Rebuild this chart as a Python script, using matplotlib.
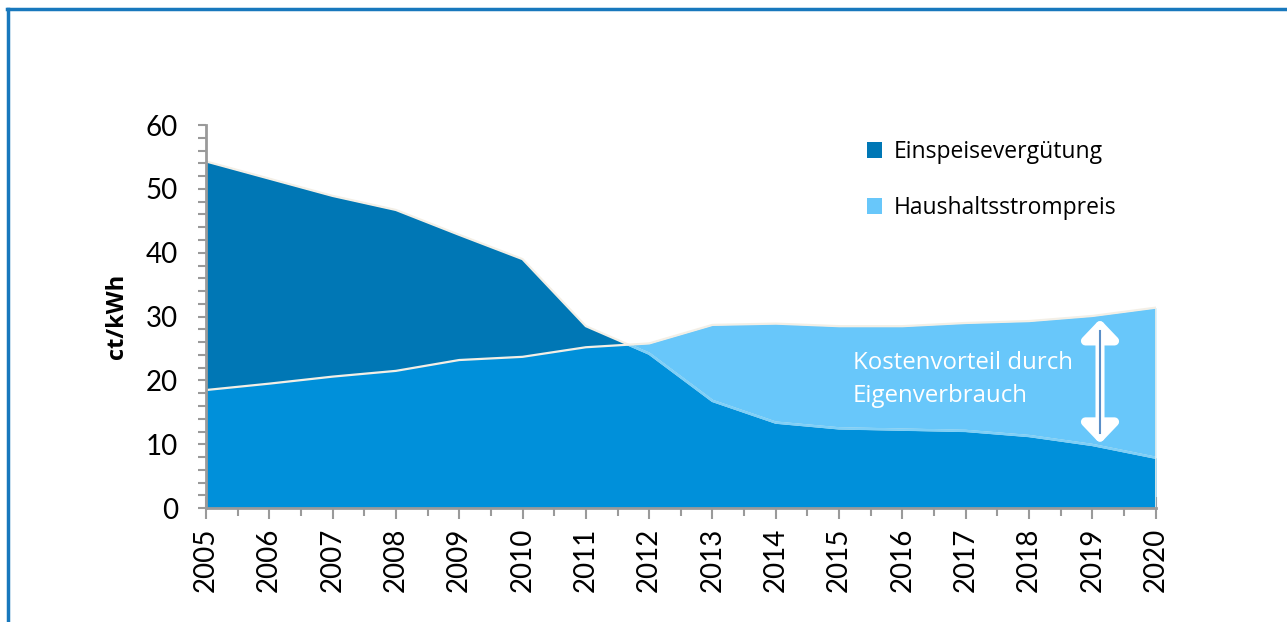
import numpy as np
import matplotlib
matplotlib.use("Agg")
import matplotlib.pyplot as plt
from matplotlib.patches import Patch
from matplotlib.lines import Line2D
from matplotlib.ticker import MultipleLocator

# data (ct/kWh)
years = [2005, 2006, 2007, 2008, 2009, 2010, 2011, 2012,
         2013, 2014, 2015, 2016, 2017, 2018, 2019, 2020]
einspeise = [54.3, 51.6, 48.9, 46.7, 42.8, 39.0, 28.5, 24.2,
             16.8, 13.4, 12.5, 12.3, 12.1, 11.3, 9.9, 7.9]
haushalt = [18.5, 19.5, 20.6, 21.5, 23.2, 23.7, 25.2, 25.8,
            28.7, 28.9, 28.5, 28.5, 29.0, 29.3, 30.1, 31.4]
labels = ["Einspeisevergütung", "Haushaltsstrompreis"]
note = "Kostenvorteil durch\nEigenverbrauch"

dark = "#0077b5"
mid = "#0090da"
light = "#68c7fa"
edge = "#f3efe6"
axis_grey = "#9a9a9a"

x = np.array(years)
e = np.array(einspeise)
h = np.array(haushalt)

fig = plt.figure(figsize=(12.87, 6.22), dpi=100)
ax = fig.add_axes([0.160, 0.183, 0.738, 0.616])

ax.fill_between(x, 0, e, color=dark, lw=0, zorder=1)
hp = ax.fill_between(x, 0, h, color=light, lw=0, zorder=2)
clip = hp.get_paths()[0]
mp = ax.fill_between(x, 0, e, color=mid, lw=0, zorder=3)
mp.set_clip_path(clip, ax.transData)

# outline of the areas
ax.plot(x, e, color=edge, lw=1.6, zorder=4)
faint, = ax.plot(x, e, color="#7fcff7", lw=1.8, zorder=5)
faint.set_clip_path(clip, ax.transData)
ax.plot(x, h, color=edge, lw=1.6, zorder=6)
ax.plot([x[-1], x[-1]], [0, h[-1]], color=edge, lw=1.2, zorder=6)

# double arrow
ax.annotate("", xy=(2019.12, 29.6), xytext=(2019.12, 10.1),
            arrowprops=dict(arrowstyle="<|-|>,head_length=1.1,head_width=1.05",
                            color="white", lw=6.5, shrinkA=0, shrinkB=0), zorder=7)
ax.plot([2019.12, 2019.12], [11.8, 27.8], color="#5a8fc8", lw=1.5, zorder=8)

ax.text(2015.22, 20.2, note, color="white", fontsize=17.3, family="Open Sans",
        va="center", ha="left", linespacing=1.5, zorder=8)

ax.set_xlim(2005, 2020)
ax.set_ylim(0, 60)
ax.set_xticks(years)
ax.set_xticklabels([str(y) for y in years], rotation=90, family="Lato", fontsize=20)
ax.xaxis.set_minor_locator(MultipleLocator(0.5))
ax.set_yticks(range(0, 61, 10))
ax.set_yticklabels([str(v) for v in range(0, 61, 10)], family="Lato", fontsize=20)
ax.yaxis.set_minor_locator(MultipleLocator(2))

ax.tick_params(axis="x", which="major", direction="inout", length=16, width=1.5,
               color=axis_grey, pad=6)
ax.tick_params(axis="x", which="minor", direction="inout", length=11, width=1.5,
               color=axis_grey)
ax.tick_params(axis="y", which="both", direction="out", length=6, width=1.5,
               color=axis_grey, pad=14)

for s in ["top", "right"]:
    ax.spines[s].set_visible(False)
for s in ["left", "bottom"]:
    ax.spines[s].set_color(axis_grey)
    ax.spines[s].set_linewidth(2)
    ax.spines[s].set_zorder(9)

ax.set_ylabel("ct/kWh", fontsize=17, fontweight="bold", family="Open Sans", labelpad=12)

handles = [Patch(facecolor=dark, edgecolor="none"),
           Patch(facecolor=light, edgecolor="none")]
fig.legend(handles, labels, loc="upper left", bbox_to_anchor=(0.658, 0.808),
           frameon=False, prop={"family": "Open Sans", "size": 16.5},
           handlelength=0.65, handleheight=0.65, handletextpad=0.5,
           labelspacing=1.4)

# blue frame (left and top edges)
fig.add_artist(Line2D([0.0065, 0.0065], [0.0, 0.986], color="#1878bd", lw=2.5,
                      transform=fig.transFigure))
fig.add_artist(Line2D([0.0055, 1.0], [0.986, 0.986], color="#1878bd", lw=2.5,
                      transform=fig.transFigure))

fig.savefig("out.png", dpi=100)
